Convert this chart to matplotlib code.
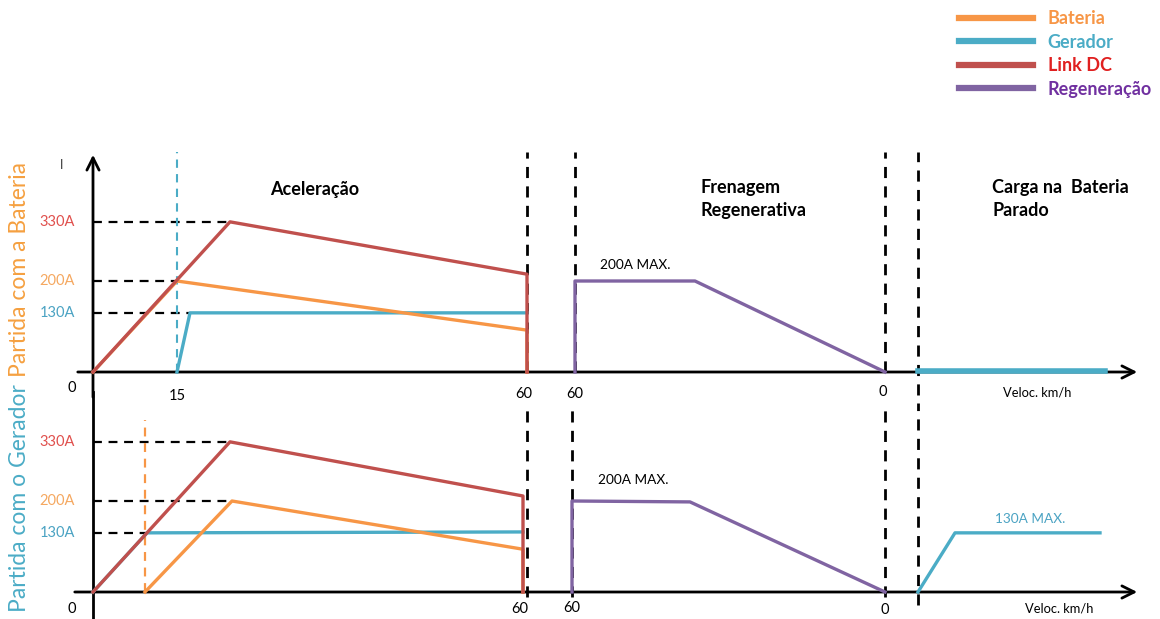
import matplotlib
matplotlib.use("Agg")
import matplotlib.pyplot as plt
from matplotlib.lines import Line2D

plt.rcParams['font.family'] = ['Lato', 'DejaVu Sans']

# ---- colours ----
C_BAT = '#F79646'
C_GER = '#4BACC6'
C_DC = '#C0504D'
C_REG = '#8064A2'

# ---- data (x in schematic units from origin, y in A) ----
levels = [330, 200, 130]
level_labels = ['330A', '200A', '130A']
level_colors = ['#E0504D', '#F5A860', '#4BA3C3']

# Top: Partida com a Bateria
top_dc_x = [0, 137, 434, 434]
top_dc_y = [0, 330, 215, 0]
top_bat_x = [0, 84, 434, 434]
top_bat_y = [0, 200, 92, 0]
top_ger_x = [84, 97, 434]
top_ger_y = [0, 130, 130]
top_reg_x = [482, 482, 602, 792]
top_reg_y = [0, 200, 200, 0]
top_chg_x = [825, 1012]
top_chg_y = [3, 3]

# Bottom: Partida com o Gerador
bot_dc_x = [0, 137, 430, 430]
bot_dc_y = [0, 330, 211, 0]
bot_bat_x = [52, 139, 430, 430]
bot_bat_y = [0, 200, 94, 0]
bot_ger_x = [0, 54, 430]
bot_ger_y = [0, 130, 132]
bot_reg_x = [479, 479, 597, 792]
bot_reg_y = [0, 200, 198, 0]
bot_chg_x = [825, 862, 1007]
bot_chg_y = [0, 130, 130]

# phase boundaries
top_vlines = [434, 482, 792, 825]
bot_vlines = [434, 479, 792, 825]
top_start = 84   # generator start (15 km/h)
bot_start = 52   # battery start

K = 0.455  # px per A

fig = plt.figure(figsize=(11.6, 6.19), dpi=100)
H = 619.0

ax1 = fig.add_axes([0, 1 - 400 / H, 1, 260 / H])
ax1.set_xlim(-93, 1067)
ax1.set_ylim(-28 / K, 232 / K)
ax1.axis('off')

ax2 = fig.add_axes([0, 0, 1, 219 / H])
ax2.set_xlim(-93, 1067)
ax2.set_ylim(-27 / K, 192 / K)
ax2.axis('off')

dash = (0, (4, 3))
LW = 2.4
FS_T = 10.5   # tick labels
FS_N = 10.5   # axis numbers
FS_H = 13     # section headings

for ax in (ax1, ax2):
    ax.set_zorder(1)
    ax.patch.set_visible(False)

# ---------- TOP PANEL ----------
ytop1 = 220 / K
ax1.annotate('', xy=(1047, 0), xytext=(-18, 0),
             arrowprops=dict(arrowstyle='->', lw=2, color='black',
                             mutation_scale=22), annotation_clip=False)
ax1.annotate('', xy=(0, ytop1), xytext=(0, -28 / K),
             arrowprops=dict(arrowstyle='->', lw=2, color='black',
                             mutation_scale=22), annotation_clip=False)
for v in top_vlines:
    lo = -50 if v == top_vlines[-1] else 0
    ax1.plot([v, v], [lo, 483], color='black', lw=2, ls=dash, zorder=3, clip_on=False)
ax1.plot([top_start, top_start], [0, 483], color='#4BACC6', lw=1.5, ls=dash, zorder=3)
ax1.plot([0, top_dc_x[1]], [330, 330], color='black', lw=1.6, ls=dash, zorder=2)
ax1.plot([0, top_bat_x[1]], [200, 200], color='black', lw=1.6, ls=dash, zorder=2)
ax1.plot([0, top_ger_x[1]], [130, 130], color='black', lw=1.6, ls=dash, zorder=2)

ax1.plot(top_ger_x, top_ger_y, color=C_GER, lw=LW, zorder=4)
ax1.plot(top_bat_x, top_bat_y, color=C_BAT, lw=LW, zorder=5)
ax1.plot(top_dc_x, top_dc_y, color=C_DC, lw=LW, zorder=6)
ax1.plot(top_reg_x, top_reg_y, color=C_REG, lw=LW, zorder=5)
ax1.plot(top_chg_x, top_chg_y, color=C_GER, lw=4, zorder=5)

for lv, lb, lc in zip(levels, level_labels, level_colors):
    ax1.text(-18, lv, lb, color=lc, fontsize=FS_T, ha='right', va='center')
ax1.text(-31, 455, 'I', fontsize=9, ha='center', va='center', color='#333333')
ax1.text(-21, -35, '0', fontsize=FS_N, ha='center', va='center')
ax1.text(top_start, -52, '15', fontsize=FS_N, ha='center', va='center')
ax1.text(431, -48, '60', fontsize=FS_N, ha='center', va='center')
ax1.text(482, -48, '60', fontsize=FS_N, ha='center', va='center')
ax1.text(790, -44, '0', fontsize=FS_N, ha='center', va='center')
ax1.text(944, -46, 'Veloc. km/h', fontsize=9.3, ha='center', va='center')
ax1.text(222, 400, 'Aceleração', fontsize=FS_H, fontweight='bold', ha='center', va='center')
ax1.text(607, 406, 'Frenagem', fontsize=FS_H, fontweight='bold', ha='left', va='center')
ax1.text(607, 356, 'Regenerativa', fontsize=FS_H, fontweight='bold', ha='left', va='center')
ax1.text(899, 406, 'Carga na  Bateria', fontsize=FS_H, fontweight='bold', ha='left', va='center')
ax1.text(899, 356, 'Parado', fontsize=FS_H, fontweight='bold', ha='left', va='center')
ax1.text(542, 235, '200A MAX.', fontsize=9.8, ha='center', va='center')

# ---------- BOTTOM PANEL ----------
ax2.annotate('', xy=(1047, 0), xytext=(-21, 0),
             arrowprops=dict(arrowstyle='->', lw=2, color='black',
                             mutation_scale=22), annotation_clip=False)
ax2.plot([0, 0], [-60, 440], color='black', lw=2, zorder=3, clip_on=False)
for v in bot_vlines:
    lo = -28 if v == bot_vlines[-1] else -10
    ax2.plot([v, v], [lo, 415], color='black', lw=2, ls=dash, zorder=3)
ax2.plot([bot_start, bot_start], [0, 378], color=C_BAT, lw=1.6, ls=dash, zorder=3)
ax2.plot([0, bot_dc_x[1]], [330, 330], color='black', lw=1.6, ls=dash, zorder=2)
ax2.plot([0, bot_bat_x[1]], [200, 200], color='black', lw=1.6, ls=dash, zorder=2)
ax2.plot([0, bot_ger_x[1]], [130, 130], color='black', lw=1.6, ls=dash, zorder=2)

ax2.plot(bot_ger_x, bot_ger_y, color=C_GER, lw=LW, zorder=4)
ax2.plot(bot_bat_x, bot_bat_y, color=C_BAT, lw=LW, zorder=5)
ax2.plot(bot_dc_x, bot_dc_y, color=C_DC, lw=LW, zorder=6)
ax2.plot(bot_reg_x, bot_reg_y, color=C_REG, lw=LW, zorder=5)
ax2.plot(bot_chg_x, bot_chg_y, color=C_GER, lw=LW, zorder=5)

for lv, lb, lc in zip(levels, level_labels, level_colors):
    ax2.text(-18, lv, lb, color=lc, fontsize=FS_T, ha='right', va='center')
ax2.text(-21, -37, '0', fontsize=FS_N, ha='center', va='center')
ax2.text(427, -37, '60', fontsize=FS_N, ha='center', va='center')
ax2.text(479, -35, '60', fontsize=FS_N, ha='center', va='center')
ax2.text(792, -40, '0', fontsize=FS_N, ha='center', va='center')
ax2.text(966, -37, 'Veloc. km/h', fontsize=9.3, ha='center', va='center')
ax2.text(540, 246, '200A MAX.', fontsize=9.8, ha='center', va='center')
ax2.text(937, 160, '130A MAX.', fontsize=9.8, ha='center', va='center', color='#4BA3C3')

# ---------- side titles ----------
fig.text(20 / 1160, 1 - 270 / H, 'Partida com a Bateria', rotation=90, color='#F5A040',
         fontsize=16.5, ha='center', va='center')
fig.text(20 / 1160, 1 - 498 / H, 'Partida com o Gerador', rotation=90, color='#4BACC6',
         fontsize=16.5, ha='center', va='center')

# ---------- legend ----------
handles = [Line2D([], [], color=C_BAT, lw=4.5),
           Line2D([], [], color=C_GER, lw=4.5),
           Line2D([], [], color=C_DC, lw=4.5),
           Line2D([], [], color=C_REG, lw=4.5)]
names = ['Bateria', 'Gerador', 'Link DC', 'Regeneração']
tcolors = ['#F79646', '#4BACC6', '#E02020', '#7030A0']
leg = fig.legend(handles, names, loc='upper left', bbox_to_anchor=(943 / 1160, 1 + 6 / H),
                 frameon=False, handlelength=4.1, handletextpad=0.8, labelspacing=0.36,
                 prop={'size': 13, 'weight': 'bold'})
for t, c in zip(leg.get_texts(), tcolors):
    t.set_color(c)

fig.savefig('out.png', dpi=100)
